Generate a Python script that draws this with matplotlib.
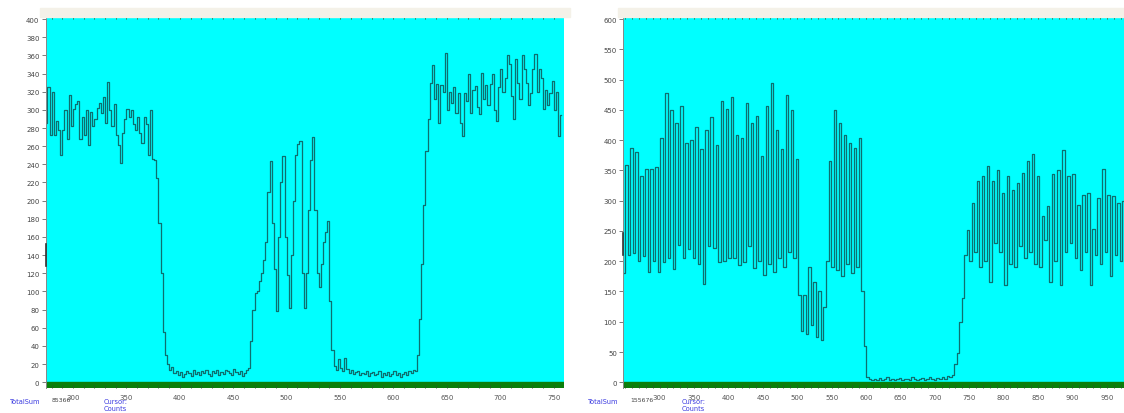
import numpy as np
import matplotlib
matplotlib.use("Agg")
import matplotlib.pyplot as plt
from matplotlib.patches import Rectangle

W, H = 1124, 414

# ---- left spectrum: one value every 2 channels, starting at channel 275
left_start, left_step = 275, 2
left_plateau = [285, 325, 272, 320, 272, 288, 278, 250, 278, 300,
                268, 316, 282, 301, 306, 310, 268, 292, 272, 300,
                261, 298, 282, 290, 302, 308, 296, 314, 285, 331,
                300, 282, 306, 272, 261, 242, 275, 290, 301, 292,
                300, 284, 278, 292, 275, 264, 292, 284, 250, 300,
                246, 245]
left_drop = [225, 175, 120, 55, 30, 20]
left_floor = [14, 17, 10, 12, 8, 11, 6, 9, 12, 10,
              7, 13, 9, 11, 8, 12, 10, 14, 9, 7,
              12, 10, 13, 8, 11, 9, 14, 12, 10, 8,
              15, 11, 9, 12, 7, 10, 13, 16]
left_peaks = [45, 80, 98, 100, 112, 120, 135, 155, 210, 244,
              175, 125, 78, 160, 220, 249, 160, 118, 82, 140,
              200, 250, 262, 266, 120, 82, 120, 190, 245, 270,
              190, 120, 105, 130, 155, 165, 178, 90, 35, 18]
left_floor2 = [14, 26, 16, 12, 27, 15, 10, 13, 9, 11,
               12, 8, 10, 9, 12, 7, 10, 11, 8, 9,
               12, 6, 10, 8, 11, 7, 9, 12, 8, 10,
               6, 9, 11, 8, 12, 10, 14, 12]
left_high = [30, 70, 130, 195, 255, 290, 330, 349, 312, 328,
             286, 327, 320, 363, 300, 320, 307, 325, 297, 318,
             286, 271, 318, 310, 340, 297, 322, 326, 303, 295,
             341, 312, 327, 305, 328, 340, 300, 288, 325, 345,
             320, 335, 360, 350, 315, 290, 356, 330, 312, 360,
             345, 330, 305, 318, 345, 362, 320, 345, 335, 301,
             322, 305, 318, 332, 300, 320, 271, 294]
left_counts = left_plateau + left_drop + left_floor + left_peaks + left_floor2 + left_high

# ---- right spectrum: one value every 3.65 channels, starting at channel 248
right_start, right_step = 248, 3.65
right_troughs_a = [180, 210, 213, 200, 208, 182, 200, 182, 198, 205,
                   187, 226, 206, 220, 205, 195, 162, 225, 222, 198,
                   200, 205, 205, 193, 198, 225, 188, 200, 178, 195,
                   182, 206, 190, 215, 205]
right_peaks_a = [359, 387, 380, 340, 352, 352, 355, 403, 478, 450,
                 429, 456, 395, 401, 421, 385, 417, 439, 392, 465,
                 451, 472, 409, 403, 461, 428, 440, 374, 456, 494,
                 417, 385, 474, 449, 369]
right_mid = [145, 85, 145, 80, 190, 95, 165, 75, 150, 70,
             125, 200, 365, 190, 449, 185, 428, 175, 409, 195,
             395, 180, 387, 190, 403, 150, 60, 8]
right_floor = [5, 3, 6, 4, 7, 3, 5, 8, 4, 6,
               3, 5, 7, 4, 6, 5, 3, 8, 5, 4,
               6, 7, 3, 5, 9, 6, 4, 7, 5, 8,
               6, 10, 9]
right_rise = [12, 30, 48, 100, 140, 210]
right_peaks_b = [252, 296, 332, 340, 357, 332, 350, 312, 340, 318,
                 329, 346, 365, 377, 340, 274, 292, 344, 351, 384,
                 340, 344, 293, 310, 313, 253, 304, 352, 310, 308,
                 296]
right_troughs_b = [200, 215, 190, 200, 165, 230, 215, 160, 195, 190,
                   225, 205, 215, 195, 190, 235, 165, 200, 160, 215,
                   230, 205, 185, 215, 160, 210, 195, 215, 175, 210,
                   200]
right_last = [300]

right_counts = []
for t, p in zip(right_troughs_a, right_peaks_a):
    right_counts += [t, p]
right_counts += right_mid + right_floor + right_rise
for p, t in zip(right_peaks_b, right_troughs_b):
    right_counts += [p, t]
right_counts += right_last

left_totals = "85366"
right_totals = "155676"
left_cursor = 140
right_cursor = 228

CYAN = "#00ffff"
GREEN = "#0b7f0b"
LINE = "#0e6f6f"
BLUE = "#3a3ae0"


def panel(ax, x, y, xlim, ylim, ystep, cursor):
    ax.set_facecolor(CYAN)
    ax.axhspan(ylim[0], 0.5, color=GREEN, zorder=1)
    ax.plot(x, y, drawstyle="steps-mid", color=LINE, lw=0.9, zorder=2)
    ax.set_yticks(np.arange(0, ylim[1], ystep))
    ax.set_xticks(np.arange(300, xlim[1], 50))
    ax.set_xticks(np.arange(250, xlim[1], 10), minor=True)
    # limits after the ticks, so the ticks do not widen the view
    ax.set_xlim(*xlim)
    ax.set_ylim(*ylim)
    ax.tick_params(axis="y", direction="out", length=3, width=0.6,
                   color="#666666", labelsize=5, labelcolor="#444444", pad=1.5)
    ax.tick_params(axis="x", which="both", direction="in", length=2, width=0.6,
                   color="#2a5a2a", labelsize=5, labelcolor="#555555", pad=4,
                   top=True)
    for side in ["top", "right", "bottom"]:
        ax.spines[side].set_visible(False)
    ax.spines["left"].set_color("#888888")
    ax.spines["left"].set_linewidth(0.7)
    # cursor mark on the left edge
    ax.plot([xlim[0], xlim[0]], [cursor - 0.03 * ylim[1], cursor + 0.03 * ylim[1]],
            color="#333333", lw=1.2, clip_on=False, zorder=3)


fig = plt.figure(figsize=(W / 100, H / 100), dpi=100)

# beige strips above the plots
for x0, x1 in [(40, 570), (618, 1124)]:
    fig.patches.append(Rectangle((x0 / W, 1 - 17.5 / H), (x1 - x0) / W, 9 / H,
                                 transform=fig.transFigure, color="#f4f1e8", zorder=0))

ax1 = fig.add_axes([45.7 / W, 25 / H, (564 - 45.7) / W, (389 - 17.3) / H])
lx = left_start + left_step * np.arange(len(left_counts))
panel(ax1, lx, left_counts, (274.4, 759.7), (-6.3, 403), 20, left_cursor)

ax2 = fig.add_axes([623.3 / W, 25 / H, (1124 - 623.3) / W, (389 - 17.3) / H])
rx = right_start + right_step * np.arange(len(right_counts))
panel(ax2, rx, right_counts, (247.2, 975), (-9.4, 604.5), 50, right_cursor)


def label(px, py, s, color, size=4.8):
    fig.text(px / W, 1 - py / H, s, fontsize=size, color=color, va="center", ha="left")


for x0, total in [(0, left_totals), (578, right_totals)]:
    label(x0 + 10, 402, "TotalSum", BLUE)
    label(x0 + 52, 401, total, "#444444", 4.4)
    label(x0 + 104, 402, "Cursor:", BLUE)
    label(x0 + 104, 409.5, "Counts", BLUE)

fig.savefig("out.png", dpi=100, facecolor="white")
